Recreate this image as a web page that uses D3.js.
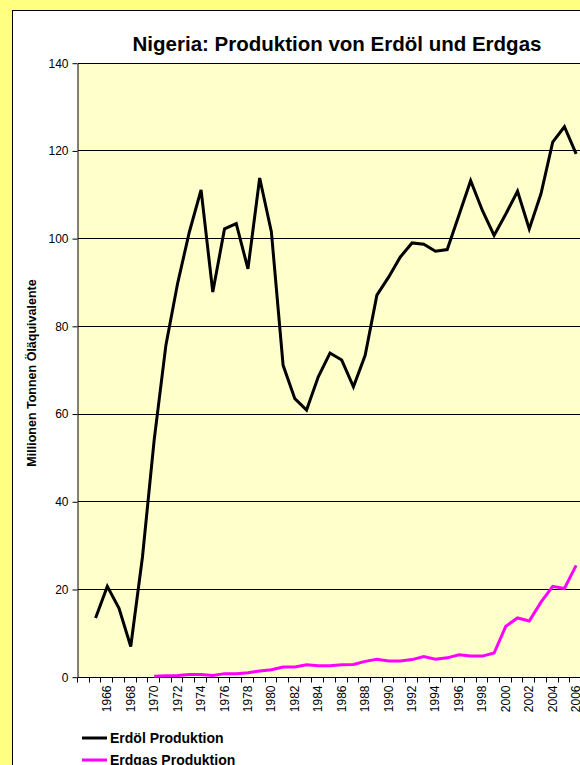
<!DOCTYPE html>
<html>
<head>
<meta charset="utf-8">
<script src="https://cdn.jsdelivr.net/npm/d3@7"></script>
<style>
  body { margin: 0; background: #ffff80; }
  svg { display: block; font-family: Arial, "Liberation Sans", sans-serif; }
</style>
</head>
<body>
<script>
var width = 580
var height = 765

// categories (first one is an empty slot, as in the original sheet)
var years = d3.range(1964, 2007)
var tickYears = [1966, 1968, 1970, 1972, 1974, 1976, 1978, 1980, 1982, 1984, 1986, 1988, 1990,
  1992, 1994, 1996, 1998, 2000, 2002, 2004, 2006]

var oilYears = d3.range(1965, 2007)
var oil = [13.4, 20.6, 15.6, 6.9, 27.3, 54, 75.6, 89.7, 101.4, 111.0,
  87.7, 102.1, 103.3, 93.0, 113.7, 101.4, 71.0, 63.4, 60.8, 68.4,
  73.8, 72.2, 66.1, 73.3, 87.0, 91.1, 95.7, 98.9, 98.6, 97.0,
  97.4, 105.2, 113.1, 106.3, 100.6, 105.5, 110.7, 102.1, 110.1, 121.9,
  125.4, 119.2]

var gasYears = d3.range(1970, 2007)
var gas = [0.1, 0.2, 0.3, 0.5, 0.5, 0.3, 0.7, 0.7, 0.9, 1.3,
  1.6, 2.2, 2.2, 2.7, 2.5, 2.5, 2.7, 2.8, 3.5, 4.0,
  3.6, 3.6, 3.9, 4.6, 4.0, 4.3, 5.0, 4.7, 4.7, 5.4,
  11.5, 13.4, 12.7, 17.0, 20.6, 20.1, 25.4]

var yTicks = [0, 20, 40, 60, 80, 100, 120, 140]

var series = [
  { name: "Erdöl Produktion", color: "#000000", years: oilYears, values: oil },
  { name: "Erdgas Produktion", color: "#ff00ff", years: gasYears, values: gas }
]

var svg = d3.select("body").append("svg")
  .attr("width", width)
  .attr("height", height)

// white chart panel
svg.append("rect")
  .attr("x", 12.5).attr("y", 10.5)
  .attr("width", 700).attr("height", 800)
  .attr("fill", "#fff")
  .attr("stroke", "#000")

var plot = { left: 78, top: 62.7, bottom: 676.7, right: 582 }

var x = d3.scaleBand().domain(years).range([plot.left, plot.right])
var y = d3.scaleLinear().domain([0, 140]).range([plot.bottom, plot.top])

svg.append("rect")
  .attr("x", plot.left).attr("y", plot.top)
  .attr("width", plot.right - plot.left).attr("height", plot.bottom - plot.top)
  .attr("fill", "#ffffcc")

// gridlines
svg.append("g")
  .selectAll("line")
  .data(yTicks.filter(d => d > 0))
  .join("line")
  .attr("x1", plot.left).attr("x2", plot.right)
  .attr("y1", d => Math.round(y(d)) + 0.5).attr("y2", d => Math.round(y(d)) + 0.5)
  .attr("stroke", "#000")

// y axis
var yAxis = svg.append("g")
  .attr("transform", "translate(" + (plot.left - 0.5) + ",0.5)")
  .call(d3.axisLeft(y).tickValues(yTicks).tickSize(5).tickPadding(4).tickSizeOuter(0))
yAxis.selectAll("text").attr("font-size", 12).attr("fill", "#000")
yAxis.select(".domain").attr("stroke", "#000")

// x axis: ticks on category boundaries
var xg = svg.append("g")
  .attr("transform", "translate(0," + (Math.round(plot.bottom) + 0.5) + ")")
xg.append("line")
  .attr("x1", plot.left).attr("x2", plot.right)
  .attr("stroke", "#000")
xg.selectAll("line.tick")
  .data(years.concat([2007]))
  .join("line")
  .attr("class", "tick")
  .attr("x1", d => Math.round(d === 2007 ? plot.right : x(d)) - 0.5)
  .attr("x2", d => Math.round(d === 2007 ? plot.right : x(d)) - 0.5)
  .attr("y1", 0).attr("y2", 5)
  .attr("stroke", "#000")
xg.selectAll("text")
  .data(tickYears)
  .join("text")
  .attr("transform", d => "translate(" + (x(d) + x.bandwidth() / 2 + 4) + ",8) rotate(-90)")
  .attr("text-anchor", "end")
  .attr("font-size", 12)
  .text(d => d)

// lines
var line = d3.line()
  .x(d => x(d[0]) + x.bandwidth() / 2)
  .y(d => y(d[1]))

svg.append("g")
  .selectAll("path")
  .data(series)
  .join("path")
  .attr("d", s => line(s.years.map((yr, i) => [yr, s.values[i]])))
  .attr("fill", "none")
  .attr("stroke", s => s.color)
  .attr("stroke-width", 3)
  .attr("stroke-linejoin", "miter")

// title
svg.append("text")
  .attr("x", 337).attr("y", 51)
  .attr("text-anchor", "middle")
  .attr("font-size", 20.5)
  .attr("font-weight", "bold")
  .text("Nigeria: Produktion von Erdöl und Erdgas")

// y axis title
svg.append("text")
  .attr("transform", "translate(36,373) rotate(-90)")
  .attr("text-anchor", "middle")
  .attr("font-size", 12.5)
  .attr("font-weight", "bold")
  .text("Millionen Tonnen Öläquivalente")

// legend
var legend = svg.append("g")
  .selectAll("g")
  .data(series)
  .join("g")
  .attr("transform", (d, i) => "translate(82," + (738 + i * 22) + ")")
legend.append("line")
  .attr("x1", 0).attr("x2", 25)
  .attr("stroke", d => d.color)
  .attr("stroke-width", 3)
legend.append("text")
  .attr("x", 28).attr("y", 5)
  .attr("font-size", 14)
  .attr("font-weight", "bold")
  .text(d => d.name)
</script>
</body>
</html>
